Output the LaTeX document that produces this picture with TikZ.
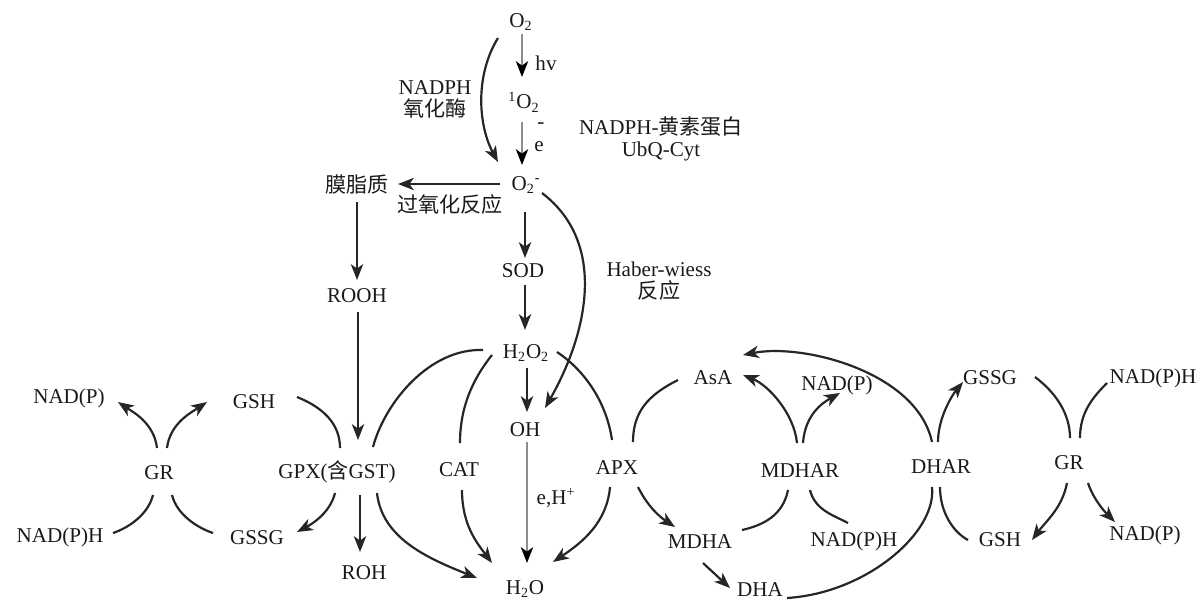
\documentclass[tikz,border=0pt]{standalone}
\usepackage{fontspec}
\setmainfont{Liberation Serif}
\newfontfamily\cjk{Noto Sans CJK SC}
\usetikzlibrary{arrows.meta}
\begin{document}
\begin{tikzpicture}[x=0.02cm,y=-0.02cm,
  lbl/.style={font=\fontsize{12}{12.5}\selectfont, inner sep=0pt, align=center, text=black!90},
  con/.style={line width=1.25pt, draw=black!85},
  arr/.style={con, -{Stealth[length=9pt,width=7pt,inset=2.5pt]}},
  garr/.style={line width=1.1pt, draw=black!45, -{Stealth[length=9pt,width=7pt,inset=2.5pt,color=black]}}]
\useasboundingbox (0,0) rectangle (1201,600);
% ---------- nodes ----------
\node[lbl] (o2) at (521,22) {O\textsubscript{2}};
\node[lbl] (hv) at (546,63) {hv};
\node[lbl] (so2) at (524,102) {\textsuperscript{1}O\textsubscript{2}};
\node[lbl] (em) at (541,126) {-};
\node[lbl] (ee) at (539,147) {e};
\node[lbl] (nox) at (435,99) {NADPH\\{\cjk 氧化酶}};
\node[lbl] (flavo) at (661,139) {NADPH-{\cjk 黄素蛋白}\\UbQ-Cyt};
\node[lbl] (o2m) at (526,185) {O\textsubscript{2}\textsuperscript{\textbf{-}}};
\node[lbl] (lip) at (357,185) {\cjk 膜脂质};
\node[lbl] (perox) at (450,204) {\cjk 过氧化反应};
\node[lbl] (sod) at (523,271) {SOD};
\node[lbl] (hw) at (659,281) {Haber-wiess\\{\cjk 反应}};
\node[lbl] (rooh) at (357,296) {ROOH};
\node[lbl] (h2o2) at (526,353) {H\textsubscript{2}O\textsubscript{2}};
\node[lbl] (oh) at (525,430) {OH};
\node[lbl] (eh) at (556,498) {e,H\textsuperscript{+}};
\node[lbl] (h2o) at (525,589) {H\textsubscript{2}O};
\node[lbl] (cat) at (459,470) {CAT};
\node[lbl] (apx) at (617,468) {APX};
\node[lbl] (gpx) at (337,472) {GPX({\cjk 含}GST)};
\node[lbl] (gshL) at (254,402) {GSH};
\node[lbl] (gssgL) at (257,538) {GSSG};
\node[lbl] (roh) at (364,573) {ROH};
\node[lbl] (grL) at (159,473) {GR};
\node[lbl] (nadpL) at (69,398) {NAD(P)};
\node[lbl] (nadphL) at (60,537) {NAD(P)H};
\node[lbl] (asa) at (713,378) {AsA};
\node[lbl] (nadpM) at (837,385) {NAD(P)};
\node[lbl] (mdhar) at (800,471) {MDHAR};
\node[lbl] (mdha) at (700,542) {MDHA};
\node[lbl] (nadphM) at (854,541) {NAD(P)H};
\node[lbl] (dha) at (760,590) {DHA};
\node[lbl] (dhar) at (941,467) {DHAR};
\node[lbl] (gssgR) at (990,378) {GSSG};
\node[lbl] (nadphR) at (1153,378) {NAD(P)H};
\node[lbl] (grR) at (1069,463) {GR};
\node[lbl] (gshR) at (1000,540) {GSH};
\node[lbl] (nadpR) at (1145,535) {NAD(P)};
% ---------- top ----------
\draw[garr] ([shift={(1,12)}]o2.center) -- ([shift={(-2,-25)}]so2.center);
\draw[garr] ([shift={(-2,20)}]so2.center) -- ([shift={(-4,-20)}]o2m.center);
\draw[arr] ([shift={(-23,16)}]o2.center) .. controls +(-23,37) and +(-20,-37) .. ([shift={(-28,-23)}]o2m.center);
\draw[arr] ([shift={(-26,-1)}]o2m.center) -- ([shift={(41,-1)}]lip.center);
\draw[arr] ([shift={(0,17)}]lip.center) -- ([shift={(0,-16)}]rooh.center);
\draw[arr] ([shift={(1,16)}]rooh.center) -- ([shift={(21,-32)}]gpx.center);
\draw[arr] ([shift={(-1,27)}]o2m.center) -- ([shift={(2,-13)}]sod.center);
\draw[arr] ([shift={(2,14)}]sod.center) -- ([shift={(-1,-23)}]h2o2.center);
\draw[arr] ([shift={(16,8)}]o2m.center) .. controls +(68,52) and +(40,-70) .. ([shift={(20,-22)}]oh.center);
% ---------- H2O2 ----------
\draw[arr] ([shift={(1,15)}]h2o2.center) -- ([shift={(2,-18)}]oh.center);
\draw[garr] ([shift={(2,12)}]oh.center) -- ([shift={(2,-26)}]h2o.center);
\draw[con] ([shift={(-43,-3)}]h2o2.center) .. controls +(-53,-2) and +(12,-45) .. ([shift={(36,-25)}]gpx.center);
\draw[arr] ([shift={(40,21)}]gpx.center) .. controls +(5,45) and +(-50,-20) .. ([shift={(-48,-11)}]h2o.center);
\draw[con] ([shift={(-34,2)}]h2o2.center) .. controls +(-20,25) and +(0,-35) .. ([shift={(1,-27)}]cat.center);
\draw[arr] ([shift={(3,20)}]cat.center) .. controls +(0,35) and +(-15,-20) .. ([shift={(-33,-26)}]h2o.center);
\draw[con] ([shift={(31,-1)}]h2o2.center) .. controls +(30,20) and +(-5,-35) .. ([shift={(-5,-28)}]apx.center);
\draw[arr] ([shift={(-7,19)}]apx.center) .. controls +(-3,35) and +(30,-20) .. ([shift={(28,-27)}]h2o.center);
% ---------- ascorbate ----------
\draw[arr] ([shift={(21,19)}]apx.center) .. controls +(10,20) and +(-15,-10) .. ([shift={(-25,-15)}]mdha.center);
\draw[con] ([shift={(-35,2)}]asa.center) .. controls +(-30,15) and +(0,-30) .. ([shift={(16,-26)}]apx.center);
\draw[arr] ([shift={(3,21)}]mdha.center) -- ([shift={(-30,-2)}]dha.center);
\draw[arr] ([shift={(-3,-28)}]mdhar.center) .. controls +(-3,-30) and +(25,10) .. ([shift={(30,-3)}]asa.center);
\draw[arr] ([shift={(3,-28)}]mdhar.center) .. controls +(2,-28) and +(-18,10) .. ([shift={(3,8)}]nadpM.center);
\draw[con] ([shift={(-12,19)}]mdhar.center) .. controls +(-5,25) and +(22,-5) .. ([shift={(42,-12)}]mdha.center);
\draw[con] ([shift={(10,19)}]mdhar.center) .. controls +(5,20) and +(-15,-8) .. ([shift={(-6,-18)}]nadphM.center);
\draw[con] ([shift={(27,8)}]dha.center) .. controls +(80,-5) and +(5,45) .. ([shift={(-9,20)}]dhar.center);
\draw[arr] ([shift={(-9,-25)}]dhar.center) .. controls +(-15,-70) and +(60,-12) .. ([shift={(30,-23)}]asa.center);
\draw[arr] ([shift={(-3,-25)}]dhar.center) .. controls +(0,-25) and +(-10,12) .. ([shift={(-27,4)}]gssgR.center);
\draw[con] ([shift={(-1,20)}]dhar.center) .. controls +(0,25) and +(-15,-8) .. ([shift={(-32,0)}]gshR.center);
% ---------- right GR ----------
\draw[con] ([shift={(45,-1)}]gssgR.center) .. controls +(20,15) and +(0,-25) .. ([shift={(1,-25)}]grR.center);
\draw[con] ([shift={(-46,5)}]nadphR.center) .. controls +(-15,15) and +(0,-25) .. ([shift={(11,-25)}]grR.center);
\draw[arr] ([shift={(-2,20)}]grR.center) .. controls +(-5,25) and +(15,-20) .. ([shift={(32,0)}]gshR.center);
\draw[arr] ([shift={(19,20)}]grR.center) .. controls +(5,15) and +(-12,-12) .. ([shift={(-30,-13)}]nadpR.center);
% ---------- left GR / GPX ----------
\draw[arr] ([shift={(-2,-25)}]grL.center) .. controls +(-3,-25) and +(15,10) .. ([shift={(49,4)}]nadpL.center);
\draw[arr] ([shift={(8,-25)}]grL.center) .. controls +(3,-25) and +(-15,10) .. ([shift={(-47,0)}]gshL.center);
\draw[con] ([shift={(-6,22)}]grL.center) .. controls +(-5,20) and +(15,-5) .. ([shift={(53,-4)}]nadphL.center);
\draw[con] ([shift={(13,22)}]grL.center) .. controls +(5,20) and +(-15,-5) .. ([shift={(-44,-5)}]gssgL.center);
\draw[con] ([shift={(43,-5)}]gshL.center) .. controls +(25,10) and +(0,-25) .. ([shift={(3,-24)}]gpx.center);
\draw[arr] ([shift={(-2,21)}]gpx.center) .. controls +(-5,20) and +(15,-8) .. ([shift={(40,-6)}]gssgL.center);
\draw[arr] ([shift={(23,23)}]gpx.center) -- ([shift={(-4,-21)}]roh.center);
\end{tikzpicture}
\end{document}
